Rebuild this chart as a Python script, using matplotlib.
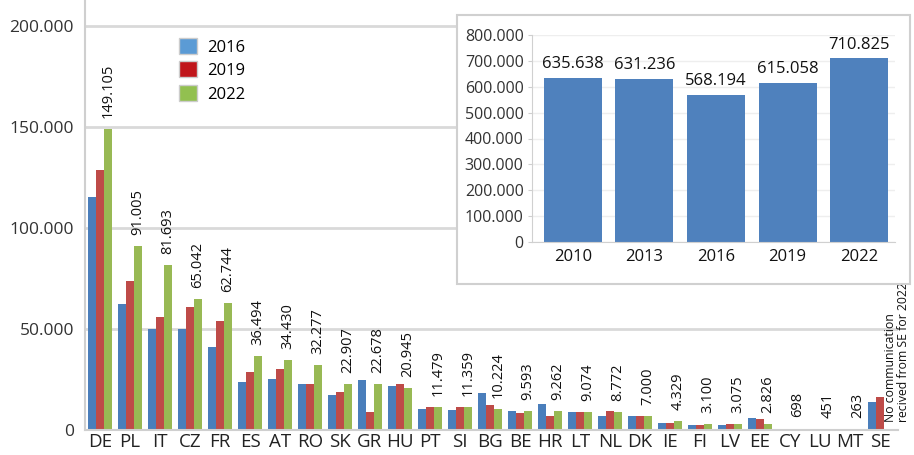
import matplotlib.pyplot as plt
import numpy as np
from matplotlib.patches import Patch, Rectangle

plt.rcParams['font.family'] = ['Open Sans', 'DejaVu Sans']

# main chart data
countries = ['DE', 'PL', 'IT', 'CZ', 'FR', 'ES', 'AT', 'RO', 'SK', 'GR', 'HU', 'PT', 'SI', 'BG',
             'BE', 'HR', 'LT', 'NL', 'DK', 'IE', 'FI', 'LV', 'EE', 'CY', 'LU', 'MT', 'SE']
v2016 = [115500, 62400, 50100, 49800, 41200, 23800, 25200, 22800, 17300, 24700, 21800, 10200, 9900, 18500,
         9400, 12900, 8700, 7100, 7100, 3300, 2500, 2500, 5800, 500, 400, 250, 14000]
v2019 = [128700, 73900, 55800, 61000, 54100, 28900, 30000, 22800, 18600, 9100, 22600, 11600, 11500, 12400,
         8200, 7100, 9000, 9400, 7100, 3300, 2700, 3200, 5300, 600, 450, 270, 16200]
v2022 = [149105, 91005, 81693, 65042, 62744, 36494, 34430, 32277, 22907, 22678, 20945, 11479, 11359, 10224,
         9593, 9262, 9074, 8772, 7000, 4329, 3100, 3075, 2826, 698, 451, 263, None]

# inset data
years = ['2010', '2013', '2016', '2019', '2022']
totals = [635638, 631236, 568194, 615058, 710825]

def fmt(v):
    return f"{v:,}".replace(",", ".")

fig = plt.figure(figsize=(9.14, 4.55), dpi=100)
W, H = 914, 455

ax = fig.add_axes([85 / W, 25 / H, 813 / W, 430 / H])
x = np.arange(len(countries))
bw = 0.27
c16, c19, c22 = '#4a7ebb', '#be4b48', '#98b954'
ax.bar(x - bw, v2016, bw, color=c16, zorder=2)
ax.bar(x, v2019, bw, color=c19, zorder=2)
g = [v if v is not None else 0 for v in v2022]
ax.bar(x + bw, g, bw, color=c22, zorder=2)
for xi, v in zip(x, v2022):
    if v is None:
        continue
    ax.annotate(fmt(v), (xi + bw, v), xytext=(0, 8), textcoords='offset points',
                rotation=90, ha='center', va='bottom', fontsize=10.5, color='#111111')

ax.set_xlim(-0.5, 26.6)
ax.set_ylim(0, 212900)
ax.set_yticks([0, 50000, 100000, 150000, 200000])
ax.set_yticklabels([fmt(t) for t in [0, 50000, 100000, 150000, 200000]], fontsize=12.5, color='#333333')
ax.set_xticks(x)
ax.set_xticklabels(countries, fontsize=13.5, color='#222222')
ax.tick_params(axis='x', length=0, pad=2)
ax.tick_params(axis='y', length=0, pad=8)
ax.grid(axis='y', color='#d9d9d9', linewidth=2, zorder=0)
for s in ['top', 'right']:
    ax.spines[s].set_visible(False)
ax.spines['left'].set_color('#cfcfcf')
ax.spines['left'].set_linewidth(1.5)
ax.spines['bottom'].set_color('#cfcfcf')
ax.spines['bottom'].set_linewidth(1.5)

ax.text(26.57, 4000, 'No communication\nrecived from SE for 2022', rotation=90, ha='center',
        va='bottom', multialignment='left', fontsize=8.8, color='#111111', clip_on=False,
        linespacing=1.0)

handles = [Patch(facecolor='#5b9bd5', edgecolor='#cccccc'),
           Patch(facecolor='#c0161b', edgecolor='#cccccc'),
           Patch(facecolor='#92c050', edgecolor='#cccccc')]
fig.legend(handles, ['2016', '2019', '2022'], loc='upper left', bbox_to_anchor=(164 / W, 1 - 23 / H),
           frameon=False, fontsize=12, handlelength=1.1, handleheight=1.1, handletextpad=0.6,
           labelspacing=0.35)

# inset box
box = Rectangle((457 / W, 1 - 284 / H), 453 / W, 269 / H, transform=fig.transFigure,
                facecolor='white', edgecolor='#d0d0d0', linewidth=1.5, zorder=3)
fig.patches.append(box)

ax2 = fig.add_axes([532 / W, 1 - 242 / H, 363 / W, 207 / H], zorder=5)
ax2.patch.set_alpha(0)
xi = np.arange(len(years))
ax2.bar(xi, totals, 0.81, color='#4f81bd', zorder=2)
for a, v in zip(xi, totals):
    ax2.annotate(fmt(v), (a, v), xytext=(0, 4), textcoords='offset points',
                 ha='center', va='bottom', fontsize=12, color='#111111')
ax2.set_xlim(-0.57, 4.5)
ax2.set_ylim(0, 800000)
yt = np.arange(0, 800001, 100000)
ax2.set_yticks(yt)
ax2.set_yticklabels([fmt(int(t)) for t in yt], fontsize=11.5, color='#333333')
ax2.set_xticks(xi)
ax2.set_xticklabels(years, fontsize=12, color='#111111')
ax2.tick_params(axis='x', length=0, pad=5)
ax2.tick_params(axis='y', length=3, color='#cfcfcf', pad=3)
ax2.grid(axis='y', color='#eeeeee', linewidth=1, zorder=0)
for s in ['top', 'right']:
    ax2.spines[s].set_visible(False)
ax2.spines['left'].set_color('#d0d0d0')
ax2.spines['bottom'].set_color('#d0d0d0')

fig.savefig('out.png', dpi=100)
